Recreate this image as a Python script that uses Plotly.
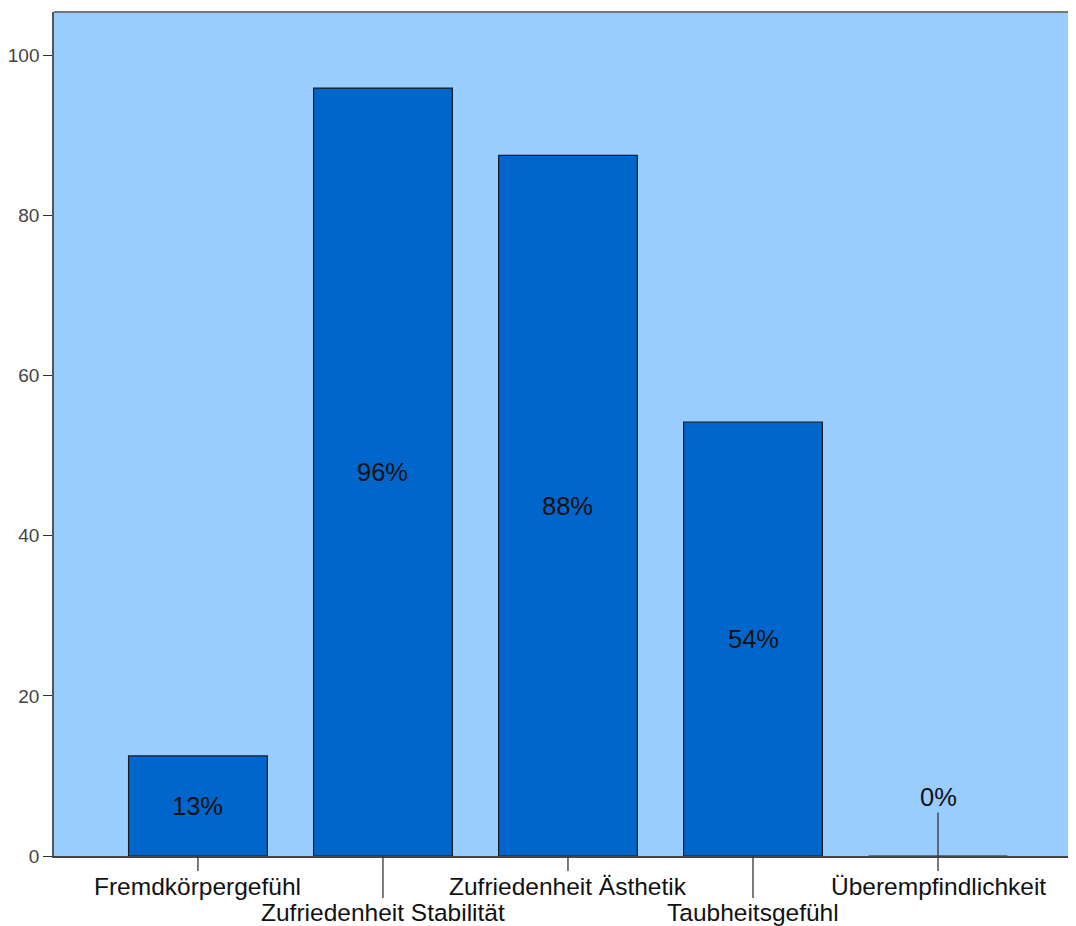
import plotly.graph_objects as go

categories = ["Fremdkörpergefühl", "Zufriedenheit Stabilität", "Zufriedenheit Ästhetik",
              "Taubheitsgefühl", "Überempfindlichkeit"]
values = [12.5, 95.9, 87.5, 54.2, 0.0]
value_labels = ["13%", "96%", "88%", "54%", "0%"]
y_ticks = [0, 20, 40, 60, 80, 100]

PLOT_H = 844.0
xs = list(range(len(categories)))
FONT = "Liberation Sans, Arial"

fig = go.Figure()
fig.add_trace(go.Bar(
    x=xs, y=values, width=0.75,
    marker=dict(color="#0066CC", line=dict(color="#1a1a1a", width=1.2)),
    hoverinfo="skip",
))

annotations = []
shapes = []
for i, (c, v, lab) in enumerate(zip(categories, values, value_labels)):
    row2 = (i % 2 == 1)
    tick_len = 42 if row2 else 15
    shapes.append(dict(type="line", xref="x", yref="paper", x0=i, x1=i,
                       y0=0, y1=-tick_len / PLOT_H,
                       line=dict(color="#333333", width=1.3)))
    annotations.append(dict(x=i, y=0, xref="x", yref="paper", text=c,
                            showarrow=False, yanchor="middle",
                            yshift=-56 if row2 else -30,
                            font=dict(family=FONT, size=24.5, color="#111111")))
    if v > 0:
        annotations.append(dict(x=i, y=v / 2, xref="x", yref="y", text=lab,
                                showarrow=False, yanchor="middle",
                                font=dict(family=FONT, size=25.5, color="#111111")))
    else:
        annotations.append(dict(x=i, y=0, xref="x", yref="y", text=lab,
                                showarrow=True, arrowhead=0, arrowwidth=1.3,
                                arrowcolor="#333333", ax=0, ay=-59, standoff=0,
                                font=dict(family=FONT, size=25.5, color="#111111")))

# top border
shapes.append(dict(type="line", xref="paper", yref="paper", x0=0, x1=1, y0=1, y1=1,
                   line=dict(color="#777777", width=2)))

# page body has an 8px margin: compensate so the plot lands where the reference has it
fig.update_layout(
    width=1076, height=918,
    margin=dict(l=46, r=0, t=4, b=70),
    plot_bgcolor="#99CCFF", paper_bgcolor="white",
    showlegend=False,
    annotations=annotations, shapes=shapes,
    xaxis=dict(range=[-0.778, 4.789], showticklabels=False, ticks="",
               showgrid=False, zeroline=False, showline=True,
               linecolor="#444444", linewidth=1.5),
    yaxis=dict(range=[0, 105.4], tickvals=y_ticks, ticks="outside", ticklen=9,
               tickcolor="#333333", tickwidth=1.3,
               tickfont=dict(family=FONT, size=19, color="#444444"),
               showgrid=False, zeroline=False, showline=True,
               linecolor="#555555", linewidth=1.5),
)

fig.write_html("out.html")
